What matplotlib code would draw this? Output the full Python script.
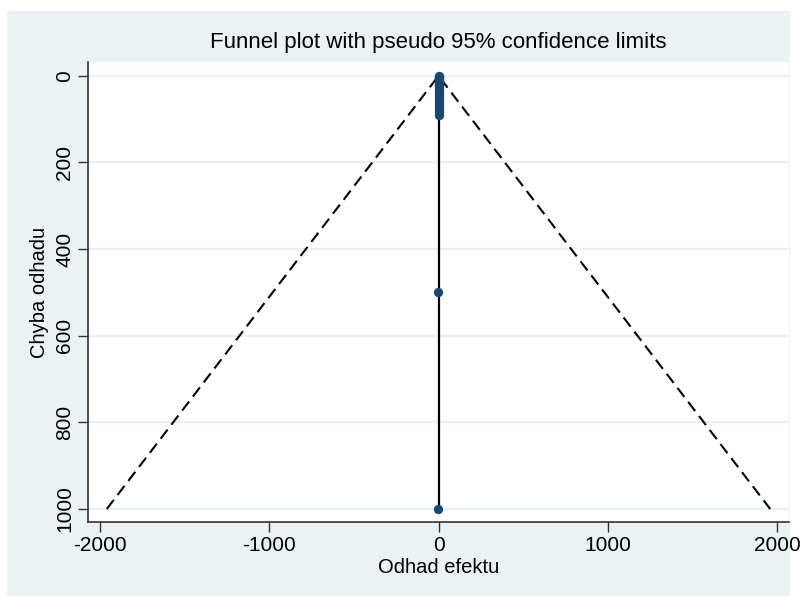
import numpy as np
import matplotlib.pyplot as plt
from matplotlib.patches import Rectangle

plt.rcParams['font.family'] = ['Liberation Sans', 'DejaVu Sans']
plt.rcParams['axes.unicode_minus'] = False

# study estimates (effect) and their standard errors
effect = [0, 2, 4, 1, 3, 5, 2, 0, 1, 3, 2, 4, 1, 0, 2, 3, 1, 2, 0, 1, 2, 1, 0, -1, -2]
se = [1, 2, 3, 5, 8, 10, 12, 15, 18, 22, 26, 30, 35, 40, 45, 50, 55, 60, 66, 72, 78, 84, 90, 500, 1000]

pooled = 0
se_max = 1000
z = 1.96

xticks = [-2000, -1000, 0, 1000, 2000]
yticks = [0, 200, 400, 600, 800, 1000]

bg = '#EAF2F3'
navy = '#1A476F'

fig = plt.figure(figsize=(8, 5.96), dpi=100)
fig.patches.append(Rectangle((7 / 800, 0), 783 / 800, 1 - 11 / 596,
                             transform=fig.transFigure, facecolor=bg,
                             edgecolor='none', zorder=-5))

ax = fig.add_axes([88 / 800, 1 - 522 / 596, 701 / 800, 460 / 596])
ax.set_zorder(2)
ax.set_facecolor('white')

for t in yticks:
    ax.axhline(t, color=bg, lw=1.6, zorder=1)

# pseudo 95% limits
ax.plot([pooled - z * se_max, pooled, pooled + z * se_max], [se_max, 0, se_max],
        color='black', ls=(0, (5.5, 3)), lw=1.5, zorder=2)
ax.plot([pooled, pooled], [0, se_max], color='black', lw=1.6, zorder=3)
ax.scatter(effect, se, s=45, color=navy, zorder=4, linewidths=0)

ax.set_xlim(-2071, 2071)
ax.set_ylim(1030, -32)
ax.set_xticks(xticks)
ax.set_yticks(yticks)
ax.set_yticklabels([str(t) for t in yticks], rotation=90, va='center')
ax.tick_params(direction='out', length=7, width=1, labelsize=15, color='#333333', pad=3)

for s in ['top', 'right']:
    ax.spines[s].set_visible(False)
for s in ['left', 'bottom']:
    ax.spines[s].set_color('#333333')
    ax.spines[s].set_linewidth(1.2)

ax.set_title('Funnel plot with pseudo 95% confidence limits', fontsize=16, pad=10)
ax.set_xlabel('Odhad efektu', fontsize=14.5)
ax.set_ylabel('Chyba odhadu', fontsize=14.5)
ax.xaxis.set_label_coords(0.5, -0.078)
ax.yaxis.set_label_coords(-0.056, 0.5)

fig.savefig('out.png', dpi=100, facecolor='white')
